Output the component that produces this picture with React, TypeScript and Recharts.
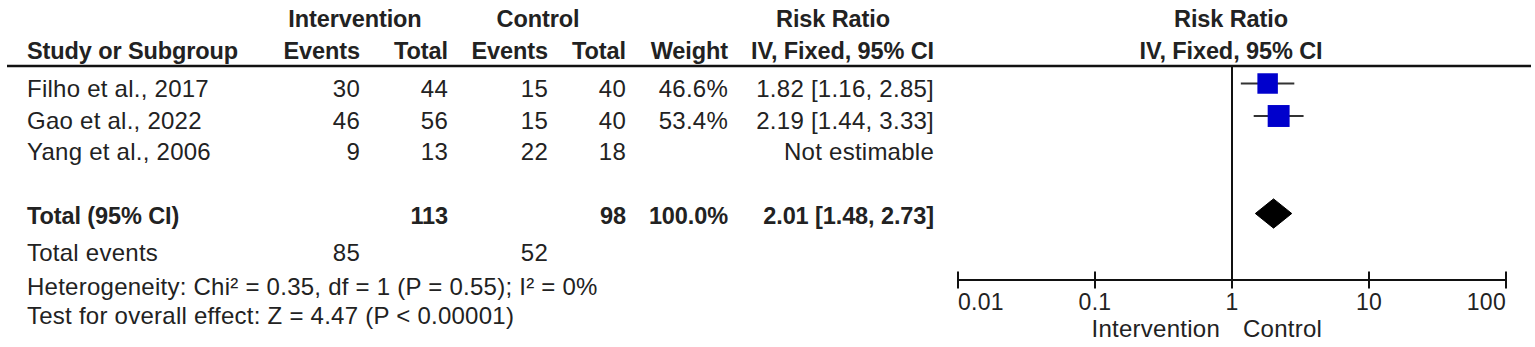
import React from 'react';
import { ComposedChart, Scatter, XAxis, YAxis, ReferenceLine } from 'recharts';

// study rows
const studies = ['Filho et al., 2017', 'Gao et al., 2022', 'Yang et al., 2006'];
const intEvents = [30, 46, 9];
const intTotal = [44, 56, 13];
const ctlEvents = [15, 15, 22];
const ctlTotal = [40, 40, 18];
const weights: (number | null)[] = [46.6, 53.4, null];
const riskRatio: (number | null)[] = [1.82, 2.19, null];
const ciLow: (number | null)[] = [1.16, 1.44, null];
const ciHigh: (number | null)[] = [2.85, 3.33, null];

// pooled estimate
const pooledRR = 2.01;
const pooledLow = 1.48;
const pooledHigh = 2.73;

const heterogeneity = 'Heterogeneity: Chi² = 0.35, df = 1 (P = 0.55); I² = 0%';
const overallEffect = 'Test for overall effect: Z = 4.47 (P < 0.00001)';

const xTicks = [0.01, 0.1, 1, 10, 100];
const xTickLabels = ['0.01', '0.1', '1', '10', '100'];

const FONT = '"Liberation Sans", Arial, sans-serif';
const TEXT = '#222';
const W = 1535;
const H = 347;
const PLOT_LEFT = 958;
const PLOT_RIGHT = 1506;
const PLOT_TOP = 66;
const AXIS_Y = 280;
const ROW0 = 83.5;
const ROW_PITCH = 32.5;
const TOTAL_ROW = studies.length + 1;
const DIAMOND_HALF = 0.45;

const sum = (a: number[]) => a.reduce((s, v) => s + v, 0);
const fmt2 = (v: number) => v.toFixed(2);

const squarePoints = studies
  .map((_, i) => ({ x: riskRatio[i], y: i, w: weights[i] }))
  .filter((p) => p.x !== null);

const whiskerSets = studies
  .map((_, i) =>
    ciLow[i] === null
      ? null
      : [
          { x: ciLow[i], y: i },
          { x: ciHigh[i], y: i },
        ],
  )
  .filter((s) => s !== null) as { x: number; y: number }[][];

const diamondPoints = [
  { x: pooledLow, y: TOTAL_ROW },
  { x: pooledRR, y: TOTAL_ROW - DIAMOND_HALF },
  { x: pooledHigh, y: TOTAL_ROW },
  { x: pooledRR, y: TOTAL_ROW + DIAMOND_HALF },
  { x: pooledLow, y: TOTAL_ROW },
];

const AxisTick = (props: any) => {
  const { x, y, index, visibleTicksCount } = props;
  const last = (visibleTicksCount ?? xTicks.length) - 1;
  const anchor = index === 0 ? 'start' : index === last ? 'end' : 'middle';
  return (
    <g>
      <line x1={x} x2={x} y1={y - 8.5} y2={y + 8.5} stroke="#111" strokeWidth={2} />
      <text x={x} y={y + 30} textAnchor={anchor} fontSize={23} fill={TEXT} fontFamily={FONT} letterSpacing={0.3}>
        {xTickLabels[index]}
      </text>
    </g>
  );
};

const Square = (p: any) => {
  const s = 3 * Math.sqrt(p.payload.w);
  return <rect x={p.cx - s / 2} y={p.cy - s / 2} width={s} height={s} fill="#0000CC" />;
};

const Nothing = () => <g />;

const T = (props: any) => (
  <text fontFamily={FONT} fontSize={24} fill={TEXT} letterSpacing={0.25} {...props} />
);
const B = (props: any) => (
  <text fontFamily={FONT} fontSize={23.5} fontWeight="bold" fill={TEXT} letterSpacing={-0.1} {...props} />
);

export default function App() {
  const rowBase = (i: number) => 97 + i * 31.5;
  return (
    <div style={{ position: 'absolute', left: 0, top: 0, width: W, height: H, background: '#fff' }}>
      <ComposedChart
        width={W}
        height={H}
        margin={{ top: PLOT_TOP, right: W - PLOT_RIGHT, bottom: H - AXIS_Y - 30, left: PLOT_LEFT }}
      >
        <XAxis
          type="number"
          dataKey="x"
          scale="log"
          domain={[0.01, 100]}
          ticks={xTicks}
          interval={0}
          allowDataOverflow
          height={30}
          tickSize={0}
          tickMargin={0}
          tickLine={false}
          tick={<AxisTick />}
          axisLine={{ stroke: '#111', strokeWidth: 2 }}
        />
        <YAxis
          type="number"
          dataKey="y"
          domain={[(PLOT_TOP - ROW0) / ROW_PITCH, (AXIS_Y - ROW0) / ROW_PITCH]}
          reversed
          hide
          allowDataOverflow
        />
        <ReferenceLine x={1} stroke="#111" strokeWidth={2} />
        {whiskerSets.map((pts, i) => (
          <Scatter
            key={`ci-${i}`}
            data={pts}
            line={{ stroke: '#333', strokeWidth: 2 }}
            shape={<Nothing />}
            isAnimationActive={false}
          />
        ))}
        <Scatter data={squarePoints} shape={<Square />} isAnimationActive={false} />
        <Scatter
          data={diamondPoints}
          line={{ stroke: '#000', strokeWidth: 1, fill: '#000' }}
          shape={<Nothing />}
          isAnimationActive={false}
        />
      </ComposedChart>

      <svg
        width={W}
        height={H}
        style={{ position: 'absolute', left: 0, top: 0, pointerEvents: 'none' }}
      >
        {/* header */}
        <B x={355} y={27} textAnchor="middle">Intervention</B>
        <B x={538} y={27} textAnchor="middle">Control</B>
        <B x={833} y={27} textAnchor="middle">Risk Ratio</B>
        <B x={1231} y={27} textAnchor="middle">Risk Ratio</B>
        <B x={27} y={59}>Study or Subgroup</B>
        <B x={360} y={59} textAnchor="end">Events</B>
        <B x={448} y={59} textAnchor="end">Total</B>
        <B x={548} y={59} textAnchor="end">Events</B>
        <B x={626} y={59} textAnchor="end">Total</B>
        <B x={728} y={59} textAnchor="end">Weight</B>
        <B x={934} y={59} textAnchor="end">IV, Fixed, 95% CI</B>
        <B x={1231} y={59} textAnchor="middle">IV, Fixed, 95% CI</B>
        <line x1={7} x2={1531} y1={PLOT_TOP} y2={PLOT_TOP} stroke="#111" strokeWidth={2.5} />

        {/* study rows */}
        {studies.map((s, i) => (
          <g key={s}>
            <T x={27} y={rowBase(i)}>{s}</T>
            <T x={360} y={rowBase(i)} textAnchor="end">{intEvents[i]}</T>
            <T x={448} y={rowBase(i)} textAnchor="end">{intTotal[i]}</T>
            <T x={548} y={rowBase(i)} textAnchor="end">{ctlEvents[i]}</T>
            <T x={626} y={rowBase(i)} textAnchor="end">{ctlTotal[i]}</T>
            {weights[i] !== null && (
              <T x={728} y={rowBase(i)} textAnchor="end">{`${(weights[i] as number).toFixed(1)}%`}</T>
            )}
            <T x={934} y={rowBase(i)} textAnchor="end">
              {riskRatio[i] === null
                ? 'Not estimable'
                : `${fmt2(riskRatio[i] as number)} [${fmt2(ciLow[i] as number)}, ${fmt2(ciHigh[i] as number)}]`}
            </T>
          </g>
        ))}

        {/* totals */}
        <B x={27} y={224}>Total (95% CI)</B>
        <B x={448} y={224} textAnchor="end">{sum(intTotal)}</B>
        <B x={626} y={224} textAnchor="end">{sum(ctlTotal)}</B>
        <B x={728} y={224} textAnchor="end">100.0%</B>
        <B x={934} y={224} textAnchor="end">{`${fmt2(pooledRR)} [${fmt2(pooledLow)}, ${fmt2(pooledHigh)}]`}</B>
        <T x={27} y={260.5}>Total events</T>
        <T x={360} y={260.5} textAnchor="end">{sum(intEvents)}</T>
        <T x={548} y={260.5} textAnchor="end">{sum(ctlEvents)}</T>
        <T x={27} y={295}>{heterogeneity}</T>
        <T x={27} y={324}>{overallEffect}</T>

        {/* favours labels */}
        <T x={1220} y={337} textAnchor="end">Intervention</T>
        <T x={1243} y={337}>Control</T>
      </svg>
    </div>
  );
}
